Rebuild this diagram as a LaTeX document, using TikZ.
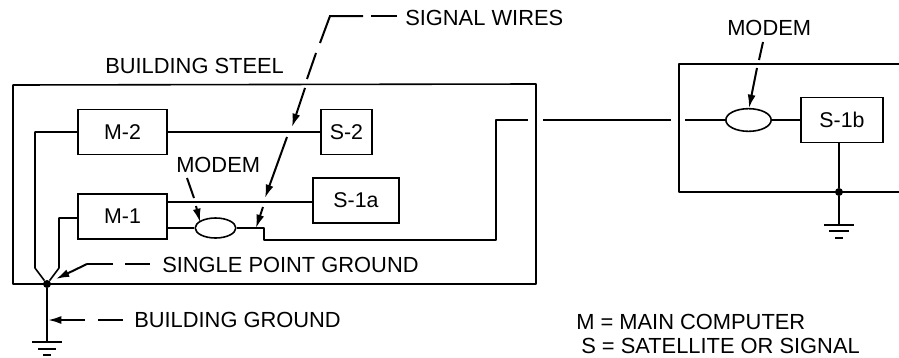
\documentclass[tikz,border=0pt]{standalone}
\usepackage{fontspec}
\setmainfont{Liberation Sans}
\usetikzlibrary{arrows.meta,shapes.geometric}
\tikzset{
 x=0.75pt,y=-0.75pt,
 wire/.style={line width=1.2pt,line join=round},
 leader/.style={line width=1.5pt},
 ptr/.style={line width=1.5pt,-{Latex[length=10pt,width=6pt]}},
 unit/.style={draw,line width=1.2pt,minimum height=33.75pt,inner sep=0pt,font=\fontsize{16}{18}\selectfont},
 modem/.style={draw,ellipse,line width=1.2pt,inner sep=0pt,minimum width=30.5pt,minimum height=15pt},
 lbl/.style={inner sep=0pt,anchor=base west,font=\fontsize{16.4}{18}\selectfont},
 dot/.style={circle,fill=black,inner sep=0pt,minimum size=6pt},
}
\begin{document}
\begin{tikzpicture}
\useasboundingbox (0,0) rectangle (899,357);
\draw[wire] (13,85) -- (13,284) -- (536,284) -- (536,84) -- cycle;
\draw[wire] (899,64) -- (679,64) -- (679,192) -- (899,192);
\node[unit,minimum width=66.75pt] (m2) at (122.5,132) {M-2};
\node[unit,minimum width=38pt] (s2) at (346.5,132) {S-2};
\node[unit,minimum width=66.75pt] (m1) at (122.5,216.5) {M-1};
\node[unit,minimum width=64.5pt] (s1a) at (356,200.5) {S-1a};
\node[unit,minimum width=61.5pt] (s1b) at (842,120) {S-1b};
\node[modem] (mod1) at (215.5,228) {};
\node[modem,minimum width=34pt,minimum height=17pt] (mod2) at (748.5,120) {};
\node[dot] (g1) at (47,284) {};
\node[dot,minimum size=6pt] (g2) at (839,192) {};
\coordinate (e1) at (528,120);
\coordinate (e2) at (543,120);
\coordinate (e3) at (671,120);
\coordinate (e4) at (685,120);
\draw[wire] (m2.east) -- (s2.west);
\draw[wire] (m1.east |- 0,202) -- (s1a.west |- 0,202);
\draw[wire] (m1.east |- 0,228) -- (mod1.west);
\draw[wire] (mod1.east) -- (264,228) -- (264,240) -- (496,240) -- (496,120) -- (e1);
\draw[wire] (e2) -- (e3);
\draw[wire] (e4) -- (mod2.west);
\draw[wire] (mod2.east) -- (s1b.west);
\draw[wire] (s1b.south -| g2) -- (g2) -- (839,225);
\draw[wire] (m2.west) -- (35,132) -- (35,268) -- (g1);
\draw[wire] (m1.west |- 0,218) -- (59,218) -- (59,268) -- (g1);
\draw[wire] (g1) -- (47,342);
\foreach \gx/\gy/\gw in {47/342/15,47/349/9,47/355/4,839/225/15,839/231/10,839/238/4}
  \draw[line width=1.4pt] (\gx-\gw,\gy) -- (\gx+\gw,\gy);
% labels
\node[lbl] (tSW) at (405,26) {SIGNAL WIRES};
\node[lbl] (tBS) at (105,73) {BUILDING STEEL};
\node[lbl] (tM1) at (176,172) {MODEM};
\node[lbl] (tSP) at (162,272) {SINGLE POINT GROUND};
\node[lbl] (tBG) at (134,327) {BUILDING GROUND};
\node[lbl] (tM2) at (727,35) {MODEM};
\node[lbl] (tK1) at (576,329) {M = MAIN COMPUTER};
\node[lbl] (tK2) at (581,353) {S = SATELLITE OR SIGNAL};
% leaders
\draw[leader] (397,16) -- (371,16);
\draw[leader] (363,16) -- (330,16) -- (320,43);
\draw[leader] (316,53) -- (307,79);
\draw[ptr] (305,88) -- (292,127);
\draw[ptr] (287,137) -- (265,198);
\draw[ptr] (263,207) -- (256,228);
\draw[leader] (187,178) -- (194,198);
\draw[ptr] (196,206) -- (200,222);
\draw[leader] (150,264) -- (125,264);
\draw[leader] (113,264) -- (87,264);
\draw[ptr] (87,264) -- (56,279);
\draw[leader] (123,320) -- (98,320);
\draw[ptr] (85,320) -- (48,320);
\draw[leader] (763,42) -- (759,60);
\draw[ptr] (757,68) -- (749,108);
\end{tikzpicture}
\end{document}
